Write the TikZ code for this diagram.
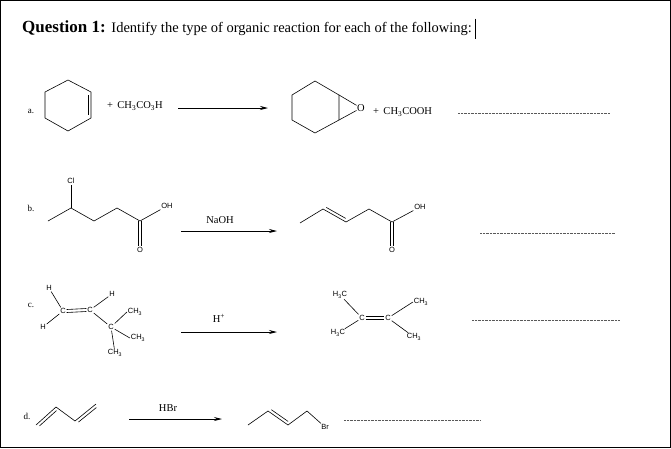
\documentclass[tikz,border=0pt]{standalone}
\usepackage{fontspec}
\setmainfont{Liberation Serif}
\newfontfamily\atomfont{Liberation Sans}
\usetikzlibrary{arrows.meta,calc}

\tikzset{
  atom/.style={font=\atomfont\fontsize{7.5}{8}\selectfont,inner sep=0.8pt},
  reag/.style={font=\fontsize{10.5}{12}\selectfont,inner sep=1pt},
  lbl/.style={font=\fontsize{9}{10}\selectfont,inner sep=0pt},
  bond/.style={line width=0.6pt},
  rxn/.style={line width=0.8pt,-{Stealth[length=8pt,width=4pt]}},
  blank/.style={densely dotted,line width=0.4pt,gray!70!black},
}
% inner line of a double bond
\newcommand\dbl[3]{\draw[bond,shorten <=2pt,shorten >=2pt] ($(#1)!3pt!#3:(#2)$) -- ($(#2)!3pt!-#3:(#1)$);}

\begin{document}
\begin{tikzpicture}[x=1pt,y=-1pt]
    % frame
    \draw[line width=1.2pt] (0.6,0.6) rectangle (670.4,447.4);
    \useasboundingbox (0,0) rectangle (671,448);

    % heading
    \node[anchor=base west,inner sep=0pt] (title) at (22,32)
      {\fontsize{17}{19}\selectfont\textbf{Question 1:} \fontsize{14.5}{16}\selectfont Identify the type of organic reaction for each of the following:};
    \draw[line width=0.5pt] (title.east) ++(3,-9) -- ++(0,20);

    % ---- a. ----
    \node[lbl] (la) at (31,111) {a.};
    \coordinate (a1) at (68,80);  \coordinate (a2) at (91,92);
    \coordinate (a3) at (91,118); \coordinate (a4) at (68,131);
    \coordinate (a5) at (45,118); \coordinate (a6) at (45,92);
    \draw[bond] (a1) -- (a2) -- (a3) -- (a4) -- (a5) -- (a6) -- cycle;
    \draw[bond] ($(a2)+(-3,3)$) -- ($(a3)+(-3,-3)$);
    \node[reag,anchor=west] (pa) at (106,106) {+ \,CH\textsubscript{3}CO\textsubscript{3}H};
    \coordinate (sa) at (178,108); \coordinate (ea) at (268,108);
    \draw[rxn] (sa) -- (ea);
    \coordinate (e1) at (315,81);  \coordinate (e2) at (339,95);
    \coordinate (e3) at (339,120); \coordinate (e4) at (315,133);
    \coordinate (e5) at (292,120); \coordinate (e6) at (292,95);
    \node[inner sep=0.5pt,font=\fontsize{10.5}{12}\selectfont] (ox) at (361,108) {O};
    \draw[bond] (e1) -- (e2) -- (e3) -- (e4) -- (e5) -- (e6) -- cycle;
    \draw[bond] (e2) -- (ox) -- (e3);
    \node[reag,anchor=west] (pb) at (372,112) {+ \,CH\textsubscript{3}COOH};
    \draw[blank] (458,113) -- (610,113);

    % ---- b. ----
    \node[lbl] (lb) at (31,208) {b.};
    \coordinate (b1) at (48,221); \coordinate (b2) at (71,208);
    \coordinate (b3) at (94,221); \coordinate (b4) at (117,208);
    \coordinate (b5) at (140,221);
    \node[atom] (bcl) at (71,181) {Cl};
    \node[atom] (boh) at (167,206) {OH};
    \node[atom] (bo) at (140,250) {O};
    \draw[bond] (b1) -- (b2) -- (b3) -- (b4) -- (b5) -- (boh);
    \draw[bond] (b2) -- (bcl);
    \draw[bond] ($(b5)+(-1.5,0)$) -- ($(bo.north)+(-1.5,0)$);
    \draw[bond] ($(b5)+(1.5,0)$) -- ($(bo.north)+(1.5,0)$);
    \node[reag] (naoh) at (220,220) {NaOH};
    \coordinate (sb) at (181,231); \coordinate (eb) at (277,231);
    \draw[rxn] (sb) -- (eb);
    \coordinate (q1) at (300,223); \coordinate (q2) at (323,209);
    \coordinate (q3) at (346,222); \coordinate (q4) at (369,209);
    \coordinate (q5) at (392,222);
    \node[atom] (qoh) at (420,207) {OH};
    \node[atom] (qo) at (392,250) {O};
    \draw[bond] (q1) -- (q2) -- (q3) -- (q4) -- (q5) -- (qoh);
    \dbl{q2}{q3}{90}
    \draw[bond] ($(q5)+(-1.5,0)$) -- ($(qo.north)+(-1.5,0)$);
    \draw[bond] ($(q5)+(1.5,0)$) -- ($(qo.north)+(1.5,0)$);
    \draw[blank] (480,233) -- (615,233);

    % ---- c. ----
    \node[lbl] (lc) at (31,305) {c.};
    \node[atom] (ch1) at (49,288) {H};
    \node[atom] (ch2) at (43,327) {H};
    \node[atom] (cc1) at (63,311) {C};
    \node[atom] (cc2) at (90,310) {C};
    \node[atom] (ch3) at (112,294) {H};
    \node[atom] (cc3) at (111,327) {C};
    \node[atom] (cm1) at (135,312) {CH\textsubscript{3}};
    \node[atom] (cm2) at (138,338) {CH\textsubscript{3}};
    \node[atom] (cm3) at (115,353) {CH\textsubscript{3}};
    \draw[bond] (ch1) -- (cc1) -- (ch2);
    \draw[bond] ($(cc1.east)+(0,-1.5)$) -- ($(cc2.west)+(0,-1.5)$);
    \draw[bond] ($(cc1.east)+(0,1.5)$) -- ($(cc2.west)+(0,1.5)$);
    \draw[bond] (cc2) -- (ch3);
    \draw[bond] (cc2) -- (cc3);
    \draw[bond] (cc3) -- (cm1.west);
    \draw[bond] (cc3) -- (cm2.west);
    \draw[bond] (cc3) -- (cm3);
    \node[reag] (hplus) at (219,318) {H\textsuperscript{+}};
    \coordinate (sc) at (181,332); \coordinate (ec) at (277,332);
    \draw[rxn] (sc) -- (ec);
    \node[atom] (pm1) at (340,295) {H\textsubscript{3}C};
    \node[atom] (pm2) at (338,333) {H\textsubscript{3}C};
    \node[atom] (pc1) at (362,318) {C};
    \node[atom] (pc2) at (388,318) {C};
    \node[atom] (pm3) at (421,302) {CH\textsubscript{3}};
    \node[atom] (pm4) at (414,337) {CH\textsubscript{3}};
    \draw[bond] (pm1) -- (pc1) -- (pm2);
    \draw[bond] ($(pc1.east)+(0,-1.5)$) -- ($(pc2.west)+(0,-1.5)$);
    \draw[bond] ($(pc1.east)+(0,1.5)$) -- ($(pc2.west)+(0,1.5)$);
    \draw[bond] (pm3.west) -- (pc2) -- (pm4);
    \draw[blank] (472,320) -- (620,320);

    % ---- d. ----
    \node[lbl] (ld) at (27,416) {d.};
    \coordinate (d1) at (36,425); \coordinate (d2) at (56,407);
    \coordinate (d3) at (75,421); \coordinate (d4) at (96,404);
    \draw[bond] (d1) -- (d2) -- (d3) -- (d4);
    \dbl{d1}{d2}{-90}
    \dbl{d3}{d4}{-90}
    \node[reag] (hbr) at (168,408) {HBr};
    \coordinate (sd) at (129,419); \coordinate (ed) at (222,419);
    \draw[rxn] (sd) -- (ed);
    \coordinate (r1) at (248,425); \coordinate (r2) at (268,411);
    \coordinate (r3) at (288,425); \coordinate (r4) at (307,411);
    \node[atom] (rbr) at (325,427) {Br};
    \draw[bond] (r1) -- (r2) -- (r3) -- (r4) -- (rbr);
    \dbl{r2}{r3}{90}
    \draw[blank] (344,420) -- (481,420);
\end{tikzpicture}
\end{document}
